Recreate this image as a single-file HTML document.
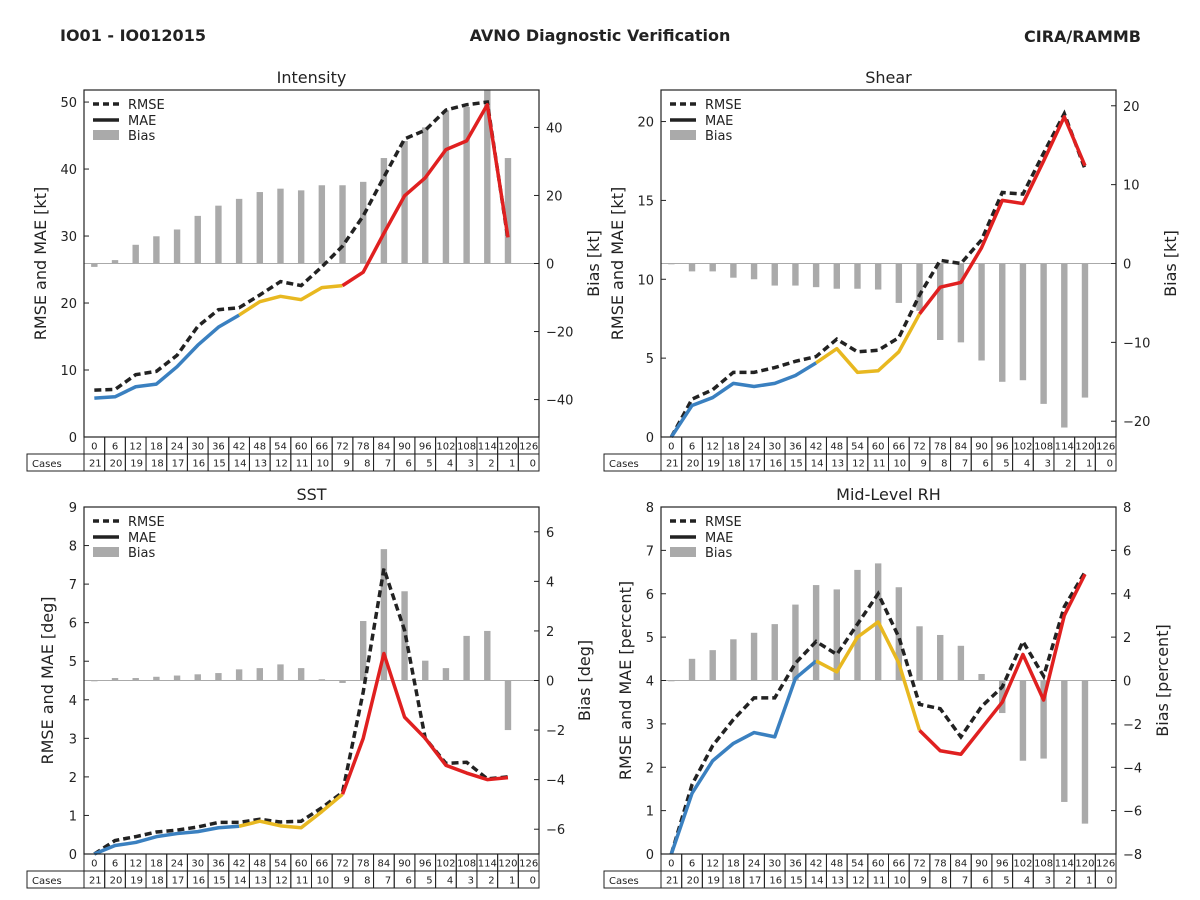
<!DOCTYPE html>
<html><head><meta charset="utf-8"><style>
body{margin:0;background:#fff;}
svg{display:block;font-family:"DejaVu Sans","Liberation Sans",sans-serif;}
</style></head><body>
<svg id="c" width="1200" height="900" viewBox="0 0 1200 900">
<text x="60" y="41" font-size="16" font-weight="bold" fill="#222">IO01 - IO012015</text>
<text x="600" y="41" font-size="16" font-weight="bold" fill="#222" text-anchor="middle">AVNO Diagnostic Verification</text>
<text x="1141" y="42" font-size="16" font-weight="bold" fill="#222" text-anchor="end">CIRA/RAMMB</text>
</svg>
<script>
const hours=[0,6,12,18,24,30,36,42,48,54,60,66,72,78,84,90,96,102,108,114,120,126];
const cases=[21,20,19,18,17,16,15,14,13,12,11,10,9,8,7,6,5,4,3,2,1,0];
const intRmse=[7,7.1,9.3,9.8,12.2,16.5,19,19.3,21.2,23.2,22.6,25.4,28.5,33,38.8,44.5,45.8,48.8,49.6,50,29.5];
const intMae=[5.8,6,7.5,7.9,10.5,13.7,16.4,18.2,20.2,21,20.5,22.3,22.6,24.6,30.4,36,38.7,42.9,44.2,49.6,29.8];
const intBias=[-1,1,5.5,8,10,14,17,19,21,22,21.5,23,23,24,31,36,40,45,46,51,31];
const shRmse=[0,2.4,3.0,4.1,4.1,4.4,4.8,5.1,6.2,5.4,5.5,6.3,9.0,11.2,11.0,12.5,15.5,15.4,18.0,20.5,17.0];
const shMae=[0,2.0,2.5,3.4,3.2,3.4,3.9,4.7,5.6,4.1,4.2,5.4,7.8,9.5,9.8,12.0,15.0,14.8,17.5,20.3,17.2];
const shBias=[0,-1,-1,-1.8,-2,-2.8,-2.8,-3,-3.2,-3.2,-3.3,-5,-6,-9.7,-10,-12.3,-15,-14.8,-17.8,-20.8,-17];
const sstRmse=[0,0.35,0.45,0.57,0.62,0.7,0.82,0.82,0.9,0.83,0.85,1.2,1.6,4.2,7.4,5.8,3.0,2.35,2.38,1.95,2.0];
const sstMae=[0,0.22,0.3,0.45,0.53,0.58,0.68,0.72,0.85,0.73,0.68,1.1,1.55,3.0,5.2,3.55,3.0,2.3,2.1,1.93,1.98];
const sstBias=[0,0.1,0.1,0.15,0.2,0.25,0.3,0.45,0.5,0.65,0.5,0.05,-0.1,2.4,5.3,3.6,0.8,0.5,1.8,2.0,-2.0];
const rhRmse=[0,1.6,2.5,3.1,3.6,3.6,4.4,4.9,4.6,5.3,6.0,5.0,3.45,3.35,2.7,3.4,3.85,4.9,4.1,5.7,6.5];
const rhMae=[0,1.4,2.15,2.55,2.8,2.7,4.05,4.45,4.2,5.0,5.35,4.4,2.85,2.38,2.3,2.9,3.5,4.6,3.55,5.5,6.45];
const rhBias=[0,1,1.4,1.9,2.2,2.6,3.5,4.4,4.2,5.1,5.4,4.3,2.5,2.1,1.6,0.3,-1.5,-3.7,-3.6,-5.6,-6.6];
const intLTicks=[0,10,20,30,40,50], intRTicks=[-40,-20,0,20,40];
const shLTicks=[0,5,10,15,20], shRTicks=[-20,-10,0,10,20];
const sstLTicks=[0,1,2,3,4,5,6,7,8,9], sstRTicks=[-6,-4,-2,0,2,4,6];
const rhLTicks=[0,1,2,3,4,5,6,7,8], rhRTicks=[-8,-6,-4,-2,0,2,4,6,8];

const NS="http://www.w3.org/2000/svg";
const svg=document.getElementById('c');
function mk(tag,attrs,parent,txt){const e=document.createElementNS(NS,tag);for(const k in attrs)e.setAttribute(k,attrs[k]);if(txt!==undefined)e.textContent=txt;(parent||svg).appendChild(e);return e;}
function fmt(v){return v<0?'\u2212'+(-v):''+v;}

const panels=[
 {key:'intensity',x0:84,y0:90,title:'Intensity',yl:'RMSE and MAE [kt]',yr:'Bias [kt]',lo:-44,ro:54,lmin:0,lmax:51.8,rmin:-51,rmax:51,lt:intLTicks,rt:intRTicks,rm:intRmse,ma:intMae,bi:intBias},
 {key:'shear',x0:661,y0:90,title:'Shear',yl:'RMSE and MAE [kt]',yr:'Bias [kt]',lo:-44,ro:54,lmin:0,lmax:22,rmin:-22,rmax:22,lt:shLTicks,rt:shRTicks,rm:shRmse,ma:shMae,bi:shBias},
 {key:'sst',x0:84,y0:507,title:'SST',yl:'RMSE and MAE [deg]',yr:'Bias [deg]',lo:-37,ro:45,lmin:0,lmax:9,rmin:-7,rmax:7,lt:sstLTicks,rt:sstRTicks,rm:sstRmse,ma:sstMae,bi:sstBias},
 {key:'rh',x0:661,y0:507,title:'Mid-Level RH',yl:'RMSE and MAE [percent]',yr:'Bias [percent]',lo:-36,ro:46,lmin:0,lmax:8,rmin:-8,rmax:8,lt:rhLTicks,rt:rhRTicks,rm:rhRmse,ma:rhMae,bi:rhBias}
];
const W=455,H=347,CW=W/22;
panels.forEach(p=>{
 const g=mk('g',{});
 
 
 const xs=h=>p.x0+(h/6+0.5)*CW;
 const yL=v=>p.y0+H-(v-p.lmin)/(p.lmax-p.lmin)*H;
 const yR=v=>p.y0+H-(v-p.rmin)/(p.rmax-p.rmin)*H;
 const t=mk('text',{x:p.x0+W/2,y:p.y0-7,'font-size':16,'text-anchor':'middle',fill:'#222'},g,p.title);
 
 mk('line',{x1:p.x0,x2:p.x0+W,y1:yR(0),y2:yR(0),stroke:'#aaa','stroke-width':1},g);
 p.bi.forEach((v,i)=>{
  const y1=yR(Math.max(v,0)),y2=yR(Math.min(v,0));
  const top=Math.max(y1,p.y0);
  const b=mk('rect',{x:xs(hours[i])-3.2,y:top,width:6.4,height:Math.max(y2-top,0.8),fill:'#aaaaaa'},g);
  
  
 });
 const rp=p.rm.map((v,i)=>xs(hours[i])+','+yL(v)).join(' ');
 const rl=mk('polyline',{points:rp,fill:'none',stroke:'#222','stroke-width':3.5,'stroke-dasharray':'7,4'},g);
 
 const segs=[[0,7,'#3a80c0','blue'],[7,12,'#e8b820','yellow'],[12,20,'#e02020','red']];
 segs.forEach(s=>{
  const pts=[];for(let i=s[0];i<=s[1]&&i<p.ma.length;i++)pts.push(xs(hours[i])+','+yL(p.ma[i]));
  const l=mk('polyline',{points:pts.join(' '),fill:'none',stroke:s[2],'stroke-width':3.5,'stroke-linejoin':'round'},g);
  
 });
 mk('rect',{x:p.x0,y:p.y0,width:W,height:H,fill:'none',stroke:'#222','stroke-width':1.2},g);
 p.lt.forEach(v=>{const y=yL(v);mk('line',{x1:p.x0,x2:p.x0+5,y1:y,y2:y,stroke:'#222'},g);
  const tt=mk('text',{x:p.x0-7,y:y+5,'font-size':13,'text-anchor':'end',fill:'#222'},g,fmt(v));
  });
 p.rt.forEach(v=>{const y=yR(v);mk('line',{x1:p.x0+W-5,x2:p.x0+W,y1:y,y2:y,stroke:'#222'},g);
  const tt=mk('text',{x:p.x0+W+7,y:y+5,'font-size':13,fill:'#222'},g,fmt(v));
  });
 const a=mk('text',{x:0,y:0,'font-size':16,'text-anchor':'middle',fill:'#222',transform:`translate(${p.x0+p.lo+6},${p.y0+H/2}) rotate(-90)`},g,p.yl);
 
 const b2=mk('text',{x:0,y:0,'font-size':16,'text-anchor':'middle',fill:'#222',transform:`translate(${p.x0+W+p.ro+6},${p.y0+H/2}) rotate(-90)`},g,p.yr);
 
 const lg=mk('g',{},g);
 const lx=p.x0+9,ly=p.y0+14;
 mk('line',{x1:lx,x2:lx+26,y1:ly,y2:ly,stroke:'#222','stroke-width':3.5,'stroke-dasharray':'6,4'},lg);
 mk('text',{x:lx+35,y:ly+5,'font-size':13,fill:'#222'},lg,'RMSE');
 mk('line',{x1:lx,x2:lx+26,y1:ly+16,y2:ly+16,stroke:'#222','stroke-width':3.5},lg);
 mk('text',{x:lx+35,y:ly+21,'font-size':13,fill:'#222'},lg,'MAE');
 mk('rect',{x:lx,y:ly+26,width:26,height:10,fill:'#aaaaaa'},lg);
 mk('text',{x:lx+35,y:ly+36,'font-size':13,fill:'#222'},lg,'Bias');
 const tb=mk('g',{},g);
 const ty=p.y0+H;
 mk('rect',{x:p.x0-57,y:ty+17,width:57,height:17,fill:'none',stroke:'#222'},tb);
 mk('text',{x:p.x0-52,y:ty+30,'font-size':10,fill:'#222'},tb,'Cases');
 hours.forEach((h,i)=>{
  const cx=p.x0+i*CW;
  mk('rect',{x:cx,y:ty,width:CW,height:17,fill:'none',stroke:'#222'},tb);
  mk('rect',{x:cx,y:ty+17,width:CW,height:17,fill:'none',stroke:'#222'},tb);
  mk('text',{x:cx+CW/2,y:ty+12.5,'font-size':10,'text-anchor':'middle',fill:'#222'},tb,h);
  mk('text',{x:cx+CW-3,y:ty+29.5,'font-size':10,'text-anchor':'end',fill:'#222'},tb,cases[i]);
 });
});
</script>
</body></html>
